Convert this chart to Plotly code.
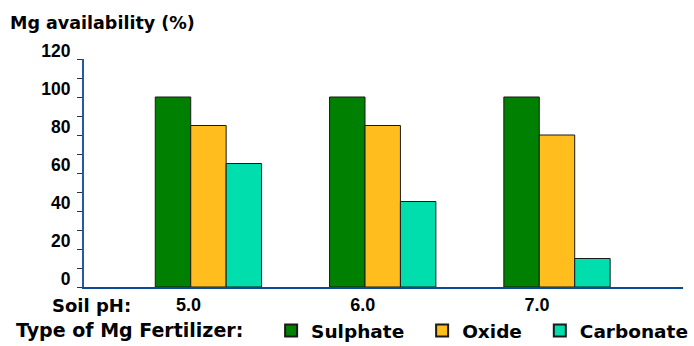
import plotly.graph_objects as go

# Soil pH groups and Mg availability (%) per fertilizer type
ph_levels = ["5.0", "6.0", "7.0"]
sulphate = [100, 100, 100]
oxide = [85, 85, 80]
carbonate = [65, 45, 15]

y_ticks = [0, 20, 40, 60, 80, 100, 120]

WORD_FONT = "DejaVu Sans"
NUM_FONT = "Liberation Sans"
NBSP = "\u00a0"

series = [
    ("Sulphate", sulphate, "#008000", 2),
    ("Oxide", oxide, "#FFBE1E", 2),
    ("Carbonate", carbonate, "#00DEAE", 0),
]

fig = go.Figure()
for name, vals, color, pad in series:
    fig.add_trace(go.Bar(
        x=ph_levels, y=vals, name=name + NBSP * pad,
        marker=dict(color=color, line=dict(color="#1a1a1a", width=1)),
    ))

W, H = 694, 346
L, R, T, B = 84, 11, 59, 59

fig.update_layout(
    width=W, height=H,
    margin=dict(l=L, r=R, t=T, b=B, pad=0, autoexpand=False),
    paper_bgcolor="white", plot_bgcolor="white",
    barmode="group", bargap=0.39, bargroupgap=0,
    title=dict(
        text="<b>Mg availability (%)</b>",
        font=dict(family=WORD_FONT, size=17.5, color="black"),
        xref="container", yref="container",
        x=10 / W, xanchor="left", y=1 - 23 / H, yanchor="middle",
    ),
    xaxis=dict(
        type="category", range=[-0.714, 2.723],
        showline=True, linecolor="#0B4A96", linewidth=2,
        ticks="", showgrid=False, zeroline=False,
        tickfont=dict(family=NUM_FONT, size=18, color="black", weight="bold"),
        ticklabelshift=-20, ticklabelstandoff=0,
    ),
    yaxis=dict(
        range=[0, 120], tickvals=y_ticks,
        showline=True, linecolor="#2558A6", linewidth=2,
        ticks="outside", ticklen=5, tickcolor="#333333", tickwidth=1,
        minor=dict(dtick=10, ticks="outside", ticklen=5, tickcolor="#333333", tickwidth=1),
        showgrid=False, zeroline=False,
        tickfont=dict(family=NUM_FONT, size=17.5, color="black", weight="bold"),
        ticklabelshift=-8, ticklabelstandoff=3,
    ),
    legend=dict(
        orientation="h",
        title=dict(text="<b>Type of Mg Fertilizer:</b>" + NBSP * 3, side="left",
                   font=dict(family=WORD_FONT, size=19, color="black")),
        font=dict(family=WORD_FONT, size=18.5, color="black", weight="bold"),
        xref="container", yref="container",
        x=14 / W, xanchor="left", y=1 - 331 / H, yanchor="middle",
        bgcolor="rgba(0,0,0,0)", itemsizing="constant",
    ),
    annotations=[
        dict(
            text="<b>Soil pH:</b>", xref="paper", yref="paper",
            x=(50 - L) / (W - L - R), xanchor="left",
            y=-(305 - (H - B)) / (H - T - B), yanchor="middle",
            showarrow=False,
            font=dict(family=WORD_FONT, size=18, color="black"),
        )
    ],
)

fig.write_html("out.html")
